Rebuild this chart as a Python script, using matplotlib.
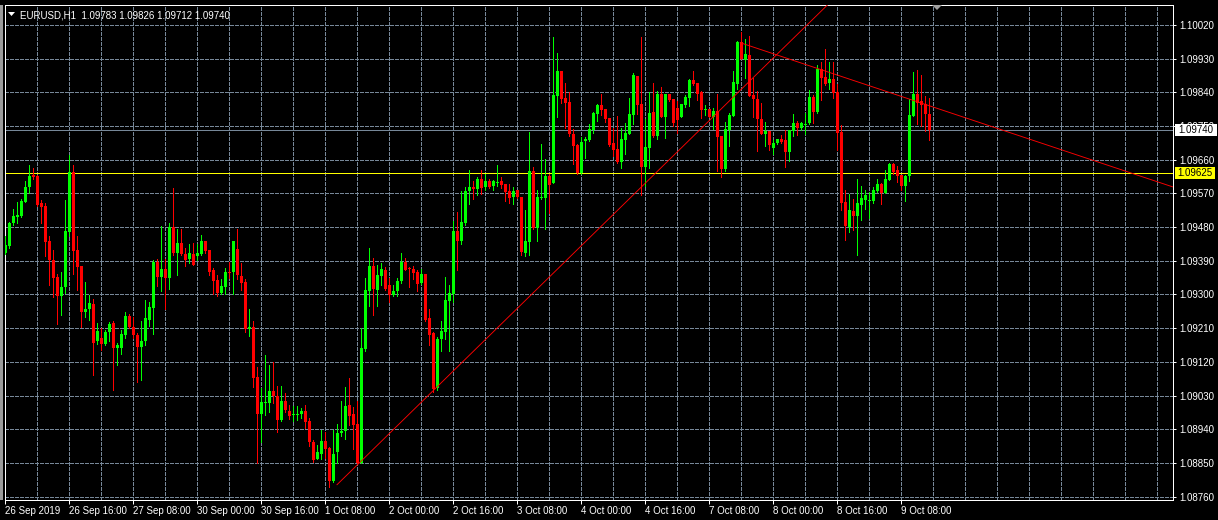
import numpy as np
import matplotlib
matplotlib.use('Agg')
import matplotlib.pyplot as plt
from matplotlib.patches import Polygon, Rectangle
from matplotlib.transforms import blended_transform_factory

plt.rcParams['font.family'] = ['Liberation Sans', 'DejaVu Sans']

symbol = 'EURUSD,H1'

# hourly bars, 26 Sep 2019 00:00 .. 9 Oct 2019 15:00
opens = [
    1.09412, 1.09430, 1.09491, 1.09508, 1.09510, 1.09547, 1.09586, 1.09618, 1.09617, 1.09545,
    1.09537, 1.09443, 1.09393, 1.09347, 1.09297, 1.09321, 1.09468, 1.09628, 1.09419, 1.09377,
    1.09252, 1.09260, 1.09275, 1.09175, 1.09184, 1.09169, 1.09201, 1.09224, 1.09158, 1.09158,
    1.09193, 1.09243, 1.09214, 1.09192, 1.09160, 1.09175, 1.09233, 1.09265, 1.09387, 1.09348,
    1.09369, 1.09345, 1.09480, 1.09412, 1.09438, 1.09409, 1.09394, 1.09409, 1.09403, 1.09409,
    1.09443, 1.09419, 1.09366, 1.09339, 1.09304, 1.09321, 1.09361, 1.09359, 1.09422, 1.09350,
    1.09334, 1.09209, 1.09214, 1.09080, 1.08980, 1.09009, 1.09009, 1.09043, 1.09030, 1.08965,
    1.09016, 1.08988, 1.08977, 1.08977, 1.08981, 1.08989, 1.08963, 1.08905, 1.08861, 1.08875,
    1.08909, 1.08891, 1.08801, 1.08878, 1.08929, 1.08934, 1.09005, 1.08981, 1.08955, 1.08851,
    1.09155, 1.09310, 1.09377, 1.09312, 1.09350, 1.09366, 1.09326, 1.09299, 1.09310, 1.09336,
    1.09387, 1.09371, 1.09369, 1.09361, 1.09330, 1.09355, 1.09238, 1.09198, 1.09050, 1.09182,
    1.09200, 1.09283, 1.09302, 1.09470, 1.09443, 1.09491, 1.09576, 1.09587, 1.09582, 1.09609,
    1.09587, 1.09603, 1.09590, 1.09598, 1.09603, 1.09595, 1.09576, 1.09560, 1.09579, 1.09560,
    1.09411, 1.09440, 1.09630, 1.09478, 1.09558, 1.09558, 1.09617, 1.09598, 1.09830, 1.09897,
    1.09825, 1.09814, 1.09729, 1.09699, 1.09625, 1.09710, 1.09713, 1.09739, 1.09782, 1.09806,
    1.09795, 1.09771, 1.09705, 1.09689, 1.09654, 1.09713, 1.09729, 1.09779, 1.09883, 1.09809,
    1.09641, 1.09691, 1.09787, 1.09723, 1.09835, 1.09774, 1.09835, 1.09822, 1.09798, 1.09774,
    1.09806, 1.09825, 1.09873, 1.09865, 1.09842, 1.09793, 1.09795, 1.09774, 1.09790, 1.09723,
    1.09635, 1.09739, 1.09777, 1.09862, 1.09974, 1.09926, 1.09940, 1.09833, 1.09822, 1.09769,
    1.09729, 1.09737, 1.09691, 1.09705, 1.09715, 1.09713, 1.09681, 1.09737, 1.09758, 1.09745,
    1.09753, 1.09758, 1.09827, 1.09787, 1.09902, 1.09881, 1.09865, 1.09876, 1.09841, 1.09734,
    1.09547, 1.09480, 1.09523, 1.09510, 1.09539, 1.09552, 1.09550, 1.09550, 1.09576, 1.09595,
    1.09571, 1.09606, 1.09649, 1.09633, 1.09619, 1.09590, 1.09617, 1.09777, 1.09835, 1.09817,
    1.09809, 1.09783]

highs = [
    1.09457, 1.09495, 1.09529, 1.09548, 1.09555, 1.09603, 1.09646, 1.09638, 1.09618, 1.09553,
    1.09544, 1.09457, 1.09419, 1.09355, 1.09361, 1.09553, 1.09673, 1.09646, 1.09457, 1.09377,
    1.09333, 1.09298, 1.09288, 1.09224, 1.09210, 1.09206, 1.09227, 1.09230, 1.09171, 1.09204,
    1.09254, 1.09247, 1.09239, 1.09197, 1.09228, 1.09286, 1.09281, 1.09393, 1.09396, 1.09483,
    1.09394, 1.09491, 1.09584, 1.09475, 1.09475, 1.09424, 1.09435, 1.09438, 1.09435, 1.09458,
    1.09444, 1.09420, 1.09370, 1.09351, 1.09342, 1.09370, 1.09388, 1.09444, 1.09475, 1.09384,
    1.09341, 1.09262, 1.09230, 1.09107, 1.09051, 1.09139, 1.09112, 1.09120, 1.09056, 1.09056,
    1.09038, 1.09005, 1.09001, 1.09001, 1.08998, 1.09005, 1.08971, 1.08912, 1.08898, 1.08939,
    1.08933, 1.08892, 1.08938, 1.08955, 1.09016, 1.09053, 1.09077, 1.09000, 1.09016, 1.09210,
    1.09344, 1.09425, 1.09398, 1.09379, 1.09385, 1.09374, 1.09345, 1.09326, 1.09344, 1.09411,
    1.09398, 1.09374, 1.09377, 1.09366, 1.09369, 1.09356, 1.09262, 1.09199, 1.09187, 1.09230,
    1.09347, 1.09326, 1.09497, 1.09521, 1.09576, 1.09587, 1.09633, 1.09603, 1.09614, 1.09633,
    1.09622, 1.09609, 1.09606, 1.09646, 1.09614, 1.09596, 1.09595, 1.09587, 1.09580, 1.09561,
    1.09526, 1.09734, 1.09641, 1.09579, 1.09702, 1.09662, 1.09622, 1.09988, 1.09945, 1.09898,
    1.09865, 1.09841, 1.09742, 1.09702, 1.09721, 1.09721, 1.09755, 1.09787, 1.09809, 1.09835,
    1.09796, 1.09772, 1.09745, 1.09777, 1.09745, 1.09758, 1.09825, 1.09891, 1.09884, 1.09988,
    1.09769, 1.09841, 1.09865, 1.09843, 1.09854, 1.09836, 1.09836, 1.09823, 1.09817, 1.09810,
    1.09833, 1.09876, 1.09897, 1.09866, 1.09843, 1.09806, 1.09796, 1.09798, 1.09835, 1.09724,
    1.09761, 1.09785, 1.09897, 1.09977, 1.10001, 1.09982, 1.09990, 1.09878, 1.09843, 1.09811,
    1.09761, 1.09738, 1.09713, 1.09716, 1.09726, 1.09739, 1.09740, 1.09782, 1.09763, 1.09761,
    1.09785, 1.09846, 1.09833, 1.09913, 1.09921, 1.09956, 1.09921, 1.09921, 1.09862, 1.09753,
    1.09579, 1.09568, 1.09555, 1.09609, 1.09590, 1.09579, 1.09574, 1.09587, 1.09609, 1.09598,
    1.09633, 1.09651, 1.09651, 1.09643, 1.09620, 1.09620, 1.09822, 1.09894, 1.09900, 1.09886,
    1.09830, 1.09826]

lows = [
    1.09408, 1.09425, 1.09486, 1.09492, 1.09507, 1.09546, 1.09571, 1.09609, 1.09537, 1.09492,
    1.09403, 1.09326, 1.09292, 1.09222, 1.09246, 1.09305, 1.09457, 1.09355, 1.09312, 1.09214,
    1.09239, 1.09231, 1.09084, 1.09167, 1.09152, 1.09164, 1.09176, 1.09044, 1.09112, 1.09142,
    1.09184, 1.09210, 1.09184, 1.09065, 1.09072, 1.09164, 1.09215, 1.09195, 1.09323, 1.09310,
    1.09262, 1.09315, 1.09406, 1.09352, 1.09406, 1.09377, 1.09384, 1.09378, 1.09391, 1.09406,
    1.09412, 1.09352, 1.09301, 1.09295, 1.09302, 1.09302, 1.09344, 1.09302, 1.09341, 1.09311,
    1.09199, 1.09188, 1.09054, 1.08851, 1.08907, 1.08979, 1.08985, 1.09010, 1.08932, 1.08963,
    1.08986, 1.08967, 1.08961, 1.08964, 1.08971, 1.08944, 1.08896, 1.08853, 1.08860, 1.08861,
    1.08864, 1.08787, 1.08799, 1.08850, 1.08921, 1.08914, 1.08952, 1.08888, 1.08850, 1.08849,
    1.09150, 1.09270, 1.09246, 1.09270, 1.09326, 1.09311, 1.09279, 1.09295, 1.09295, 1.09332,
    1.09365, 1.09320, 1.09342, 1.09310, 1.09328, 1.09228, 1.09164, 1.09040, 1.09045, 1.09150,
    1.09182, 1.09150, 1.09280, 1.09366, 1.09435, 1.09486, 1.09542, 1.09555, 1.09566, 1.09569,
    1.09579, 1.09584, 1.09579, 1.09590, 1.09584, 1.09550, 1.09544, 1.09542, 1.09558, 1.09406,
    1.09403, 1.09406, 1.09475, 1.09443, 1.09555, 1.09475, 1.09518, 1.09597, 1.09774, 1.09811,
    1.09745, 1.09723, 1.09649, 1.09622, 1.09622, 1.09665, 1.09710, 1.09731, 1.09763, 1.09779,
    1.09761, 1.09697, 1.09670, 1.09651, 1.09638, 1.09675, 1.09728, 1.09755, 1.09782, 1.09566,
    1.09590, 1.09638, 1.09722, 1.09715, 1.09773, 1.09718, 1.09818, 1.09750, 1.09731, 1.09773,
    1.09801, 1.09803, 1.09861, 1.09819, 1.09771, 1.09779, 1.09773, 1.09742, 1.09630, 1.09614,
    1.09630, 1.09697, 1.09776, 1.09849, 1.09928, 1.09878, 1.09829, 1.09774, 1.09683, 1.09728,
    1.09697, 1.09686, 1.09675, 1.09702, 1.09706, 1.09641, 1.09657, 1.09723, 1.09726, 1.09739,
    1.09729, 1.09755, 1.09758, 1.09785, 1.09819, 1.09861, 1.09849, 1.09825, 1.09686, 1.09526,
    1.09446, 1.09467, 1.09472, 1.09406, 1.09499, 1.09528, 1.09504, 1.09544, 1.09574, 1.09542,
    1.09570, 1.09605, 1.09622, 1.09600, 1.09579, 1.09550, 1.09603, 1.09776, 1.09755, 1.09750,
    1.09737, 1.09712]

closes = [
    1.09433, 1.09491, 1.09510, 1.09513, 1.09550, 1.09587, 1.09617, 1.09614, 1.09539, 1.09535,
    1.09441, 1.09391, 1.09345, 1.09297, 1.09321, 1.09470, 1.09628, 1.09417, 1.09374, 1.09252,
    1.09262, 1.09278, 1.09171, 1.09202, 1.09169, 1.09200, 1.09222, 1.09158, 1.09164, 1.09195,
    1.09243, 1.09212, 1.09191, 1.09160, 1.09176, 1.09238, 1.09267, 1.09387, 1.09348, 1.09369,
    1.09345, 1.09480, 1.09412, 1.09438, 1.09409, 1.09393, 1.09410, 1.09379, 1.09410, 1.09443,
    1.09417, 1.09361, 1.09336, 1.09304, 1.09323, 1.09360, 1.09357, 1.09443, 1.09351, 1.09332,
    1.09209, 1.09214, 1.09078, 1.08981, 1.09013, 1.09011, 1.09043, 1.09028, 1.08965, 1.09016,
    1.08992, 1.08976, 1.08981, 1.08981, 1.08989, 1.08960, 1.08905, 1.08859, 1.08878, 1.08909,
    1.08888, 1.08803, 1.08875, 1.08931, 1.08936, 1.09003, 1.08976, 1.08952, 1.08851, 1.09158,
    1.09312, 1.09377, 1.09315, 1.09353, 1.09369, 1.09315, 1.09299, 1.09310, 1.09336, 1.09387,
    1.09366, 1.09369, 1.09358, 1.09328, 1.09355, 1.09232, 1.09192, 1.09047, 1.09182, 1.09203,
    1.09286, 1.09304, 1.09470, 1.09443, 1.09494, 1.09576, 1.09587, 1.09582, 1.09609, 1.09585,
    1.09603, 1.09587, 1.09603, 1.09600, 1.09592, 1.09574, 1.09558, 1.09576, 1.09560, 1.09414,
    1.09443, 1.09630, 1.09478, 1.09560, 1.09560, 1.09617, 1.09592, 1.09833, 1.09897, 1.09822,
    1.09811, 1.09729, 1.09697, 1.09625, 1.09707, 1.09715, 1.09742, 1.09785, 1.09806, 1.09793,
    1.09769, 1.09699, 1.09686, 1.09654, 1.09715, 1.09731, 1.09782, 1.09886, 1.09806, 1.09641,
    1.09694, 1.09785, 1.09723, 1.09835, 1.09774, 1.09835, 1.09819, 1.09758, 1.09766, 1.09809,
    1.09827, 1.09873, 1.09862, 1.09835, 1.09793, 1.09795, 1.09774, 1.09790, 1.09721, 1.09635,
    1.09742, 1.09779, 1.09868, 1.09974, 1.09929, 1.09942, 1.09830, 1.09822, 1.09769, 1.09729,
    1.09737, 1.09699, 1.09705, 1.09715, 1.09707, 1.09681, 1.09739, 1.09758, 1.09745, 1.09758,
    1.09755, 1.09827, 1.09787, 1.09902, 1.09878, 1.09862, 1.09876, 1.09838, 1.09731, 1.09544,
    1.09483, 1.09526, 1.09510, 1.09544, 1.09558, 1.09566, 1.09552, 1.09579, 1.09595, 1.09571,
    1.09609, 1.09649, 1.09627, 1.09617, 1.09590, 1.09617, 1.09779, 1.09835, 1.09811, 1.09806,
    1.09782, 1.09740]

# time axis labels, one every 16 bars
time_labels = ['26 Sep 2019', '26 Sep 16:00', '27 Sep 08:00', '30 Sep 00:00', '30 Sep 16:00',
               '1 Oct 08:00', '2 Oct 00:00', '2 Oct 16:00', '3 Oct 08:00', '4 Oct 00:00',
               '4 Oct 16:00', '7 Oct 08:00', '8 Oct 00:00', '8 Oct 16:00', '9 Oct 08:00']
label_step = 16
grid_step = 8

price_ticks = [1.08760, 1.08850, 1.08940, 1.09030, 1.09120, 1.09210, 1.09300, 1.09390,
               1.09480, 1.09570, 1.09660, 1.09750, 1.09840, 1.09930, 1.10020]

bid_price = 1.09740
level_price = 1.09625

# trend lines: two anchor points each (bar index, price), drawn as rays
trend_up_bars = [82.8, 173.6]
trend_up_prices = [1.08791, 1.09740]
trend_down_bars = [183.6, 236.1]
trend_down_prices = [1.09973, 1.09786]

GRID = '#778899'
BULL = '#00ff00'
BEAR = '#ff0000'
PX = 0.72  # one pixel in points at 100 dpi

W, H = 1218, 520
fig = plt.figure(figsize=(W / 100, H / 100), dpi=100, facecolor='black')
ax = fig.add_axes([4.7 / W, 20 / H, (1173 - 4.7) / W, 495 / H])
ax.set_facecolor('black')
ax.set_xlim(-0.2, 291.9)
ax.set_ylim(1.08751, 1.100734)

o = np.array(opens)
h = np.array(highs)
l = np.array(lows)
c = np.array(closes)
x = np.arange(len(o))

# grid
xmax = ax.get_xlim()[1]
ax.vlines(np.arange(grid_step, xmax, grid_step), *ax.get_ylim(), colors=GRID,
          lw=PX, linestyles=(0, (3, 2)), zorder=0, antialiased=False)
ax.hlines(price_ticks, *ax.get_xlim(), colors=GRID, lw=PX,
          linestyles=(0, (3, 2)), zorder=0, antialiased=False)

# candles
up = c >= o
colors = np.where(up, BULL, BEAR)
ax.vlines(x, l, h, colors=colors, lw=PX, zorder=3, antialiased=False)
body_low = np.minimum(o, c)
body_h = np.maximum(np.abs(c - o), 0.000027)
ax.bar(x, body_h, bottom=body_low, width=0.75, color=colors, lw=0,
       zorder=4, antialiased=False)

# horizontal lines
ax.axhline(level_price, color='#ffff00', lw=PX, zorder=2, antialiased=False)
ax.axhline(bid_price, color=GRID, lw=PX, zorder=2, antialiased=False)


def draw_ray(bars, prices):
    slope = (prices[1] - prices[0]) / (bars[1] - bars[0])
    xs = np.array([bars[0], xmax])
    ax.plot(xs, prices[0] + slope * (xs - bars[0]), color='#ff0000', lw=0.65,
            zorder=5, solid_capstyle='butt')


draw_ray(trend_up_bars, trend_up_prices)
draw_ray(trend_down_bars, trend_down_prices)

# axes
for s in ax.spines.values():
    s.set_color('white')
    s.set_linewidth(PX)

ax.yaxis.tick_right()
ax.set_yticks(price_ticks)
ax.set_yticklabels(['%.5f' % p for p in price_ticks])
ax.tick_params(axis='y', colors='white', length=2.2, width=PX, labelsize=7, pad=2.5)

xt = np.arange(len(time_labels)) * label_step
ax.set_xticks(xt)
ax.set_xticklabels(time_labels)
for t in ax.get_xticklabels():
    t.set_horizontalalignment('left')
ax.tick_params(axis='x', colors='white', length=2.9, width=PX, labelsize=7, pad=1.5)

# price boxes on the scale
tr = blended_transform_factory(ax.transAxes, ax.transData)
box_h = 12 / 37430
for price, fc, bw in [(bid_price, 'white', 0.0360), (level_price, '#ffff00', 0.0343)]:
    ax.add_patch(Rectangle((1.0017, price - box_h / 2), bw, box_h, transform=tr,
                           facecolor=fc, edgecolor='none', clip_on=False, zorder=10))
    ax.text(1.0017 + bw / 2, price, '%.5f' % price, transform=tr, color='black',
            fontsize=7, ha='center', va='center', clip_on=False, zorder=11)

# title
title = '%s  %.5f %.5f %.5f %.5f' % (symbol, opens[-1], highs[-1], lows[-1], closes[-1])
fig.text(20 / W, 1 - 15 / H, title, color='white', fontsize=7, va='center')
fig.patches.append(Polygon([(8 / W, 1 - 12 / H), (15 / W, 1 - 12 / H), (11.5 / W, 1 - 16 / H)],
                           closed=True, transform=fig.transFigure, facecolor='white',
                           edgecolor='none'))

# chart shift marker and window edge
fig.patches.append(Polygon([(932 / W, 1 - 5 / H), (942 / W, 1 - 5 / H), (937 / W, 1 - 10 / H)],
                           closed=True, transform=fig.transFigure, facecolor='#a0a0a0',
                           edgecolor='none'))
fig.patches.append(Rectangle((0, 20 / H), 3.3 / W, 495 / H, transform=fig.transFigure,
                             facecolor='#9a9a9a', edgecolor='none'))

fig.savefig('out.png', dpi=100, facecolor='black')
